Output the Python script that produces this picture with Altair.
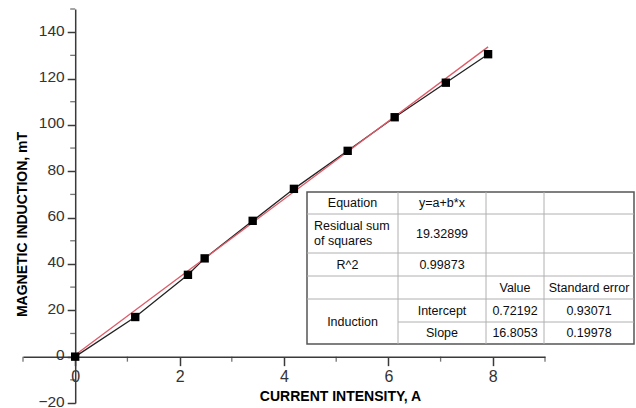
import altair as alt
import pandas as pd

# measured data (current A, induction mT)
current = [0.0, 1.15, 2.16, 2.48, 3.40, 4.19, 5.22, 6.12, 7.10, 7.91]
induction = [0.0, 17.1, 35.3, 42.4, 58.6, 72.4, 88.8, 103.3, 118.2, 130.5]

# linear fit parameters
intercept = 0.72192
slope = 16.8053
fit_x = [0.0, 7.91]

x_major = [0, 2, 4, 6, 8]
x_minor = [-1, 1, 3, 5, 7, 9]
y_major = [-20, 0, 20, 40, 60, 80, 100, 120, 140]
y_minor = [-10, 10, 30, 50, 70, 90, 110, 130, 150]

# table content
table_texts = [
    "Equation", "y=a+b*x",
    "19.32899", "R^2", "0.99873",
    "Value", "Standard error",
    "Intercept", "0.72192", "0.93071",
    "Slope", "16.8053", "0.19978",
    "Induction",
]

W, H = 522, 394
X_DOM = [-1, 9]
Y_DOM = [-20, 150]
PAD_L, PAD_T = 23, 9
px_per_x = W / (X_DOM[1] - X_DOM[0])
px_per_y = H / (Y_DOM[1] - Y_DOM[0])
x_off = -(0 - X_DOM[0]) * px_per_x
y_off = -(0 - Y_DOM[0]) * px_per_y

pts = pd.DataFrame({"x": current, "y": induction})
fit = pd.DataFrame({"x": fit_x, "y": [intercept + slope * v for v in fit_x]})

xs = alt.Scale(domain=X_DOM, nice=False, zero=False)
ys = alt.Scale(domain=Y_DOM, nice=False, zero=False)

AXC = "#3a3a3a"
FONT = "Liberation Sans"

x_axis = alt.Axis(
    values=x_major, offset=y_off, title="CURRENT INTENSITY, A",
    grid=False, domainColor=AXC, domainWidth=1.5, tickColor=AXC, tickWidth=1.5,
    tickSize=9, labelFont=FONT, labelFontSize=16, labelColor="#333",
    labelPadding=3, titleFont=FONT, titleFontSize=14, titleFontWeight="bold",
    titleColor="#000", titleX=317, titleY=40, titleBaseline="middle",
    titleAlign="center", labelFlush=False, labelOverlap=False,
)
y_axis = alt.Axis(
    values=y_major, offset=x_off, title="MAGNETIC INDUCTION, mT",
    grid=False, domainColor=AXC, domainWidth=1.5, tickColor=AXC, tickWidth=1.5,
    tickSize=8, labelFont=FONT, labelFontSize=15.5, labelColor="#333",
    labelPadding=3, labelOffset=-2, titleFont=FONT, titleFontSize=14,
    titleFontWeight="bold", titleColor="#000", titleX=-53, titleY=215,
    titleBaseline="middle", titleAlign="center", labelFlush=False,
    labelOverlap=False,
)

base_line = alt.Chart(pts).mark_line(color="#222", strokeWidth=1.3).encode(
    x=alt.X("x:Q", scale=xs, axis=x_axis),
    y=alt.Y("y:Q", scale=ys, axis=y_axis),
)
fit_line = alt.Chart(fit).mark_line(color="#e05a68", strokeWidth=1.3).encode(
    x=alt.X("x:Q", scale=xs), y=alt.Y("y:Q", scale=ys)
)
points = alt.Chart(pts).mark_square(color="#000", size=70, opacity=1).encode(
    x=alt.X("x:Q", scale=xs), y=alt.Y("y:Q", scale=ys)
)

xminor = alt.Chart(pd.DataFrame({"x": x_minor})).mark_tick(
    orient="vertical", size=5, thickness=1.3, color=AXC, yOffset=2.5
).encode(x=alt.X("x:Q", scale=xs), y=alt.datum(0, scale=ys))
yminor = alt.Chart(pd.DataFrame({"y": y_minor})).mark_tick(
    orient="horizontal", size=5, thickness=1.3, color=AXC, xOffset=-2.5
).encode(y=alt.Y("y:Q", scale=ys), x=alt.datum(0, scale=xs))

# ---- table (layout in pixels relative to plot origin) ----
ox, oy = PAD_L, PAD_T
cols = [307, 398, 486, 544, 634]
rows = [192, 214, 253, 276, 299, 322, 344]

layers = [base_line, fit_line, points, xminor, yminor]

tbl_bg = alt.Chart(pd.DataFrame({"a": [0]})).mark_rect(
    fill="white", stroke="#555", strokeWidth=1.5
).encode(
    x=alt.value(cols[0] - ox), x2=alt.value(cols[-1] - ox),
    y=alt.value(rows[0] - oy), y2=alt.value(rows[-1] - oy),
)
layers.append(tbl_bg)

GRID = "#b0b0b0"
def hline(x1, x2, y):
    return alt.Chart(pd.DataFrame({"a": [0]})).mark_rule(color=GRID, strokeWidth=1).encode(
        x=alt.value(x1 - ox), x2=alt.value(x2 - ox), y=alt.value(y - oy))
def vline(x, y1, y2):
    return alt.Chart(pd.DataFrame({"a": [0]})).mark_rule(color=GRID, strokeWidth=1).encode(
        x=alt.value(x - ox), y=alt.value(y1 - oy), y2=alt.value(y2 - oy))

for r in rows[1:5]:
    layers.append(hline(cols[0], cols[-1], r))
layers.append(hline(cols[1], cols[-1], rows[5]))
for c in cols[1:4]:
    layers.append(vline(c, rows[0], rows[-1]))

cx = [(cols[i] + cols[i + 1]) / 2 for i in range(4)]
cy = [(rows[i] + rows[i + 1]) / 2 for i in range(6)]

cells = [
    (table_texts[0], cx[0], cy[0], "center"),
    (table_texts[1], cx[1], cy[0], "center"),
    (table_texts[2], cx[1], cy[1], "center"),
    (table_texts[3], cx[0] - 5, cy[2], "center"),
    (table_texts[4], cx[1], cy[2], "center"),
    (table_texts[5], cx[2], cy[3], "center"),
    (table_texts[6], cx[3], cy[3], "center"),
    (table_texts[7], cx[1], cy[4], "center"),
    (table_texts[8], cx[2], cy[4], "center"),
    (table_texts[9], cx[3], cy[4], "center"),
    (table_texts[10], cx[1], cy[5], "center"),
    (table_texts[11], cx[2], cy[5], "center"),
    (table_texts[12], cx[3], cy[5], "center"),
    (table_texts[13], cx[0], (rows[4] + rows[6]) / 2, "center"),
]
for t, x, y, al in cells:
    layers.append(
        alt.Chart(pd.DataFrame({"t": [t]})).mark_text(
            font=FONT, fontSize=12.5, color="#0d0d0d", align=al, baseline="middle"
        ).encode(text="t:N", x=alt.value(x - ox), y=alt.value(y - oy))
    )
layers.append(
    alt.Chart(pd.DataFrame({"t": [["Residual sum", "of squares"]]})).mark_text(
        font=FONT, fontSize=12.5, color="#0d0d0d", align="left", baseline="middle",
        lineHeight=15
    ).encode(text="t", x=alt.value(314 - ox), y=alt.value(cy[1] - 7.5 - oy))
)

chart = alt.layer(*layers).properties(
    width=W, height=H,
    autosize=alt.AutoSizeParams(type="none"),
    padding={"left": PAD_L, "top": PAD_T, "right": 636 - PAD_L - W, "bottom": 408 - PAD_T - H},
    background="white",
).configure_view(stroke=None)

chart.save("out.html", embed_options={"renderer": "svg", "actions": False})
